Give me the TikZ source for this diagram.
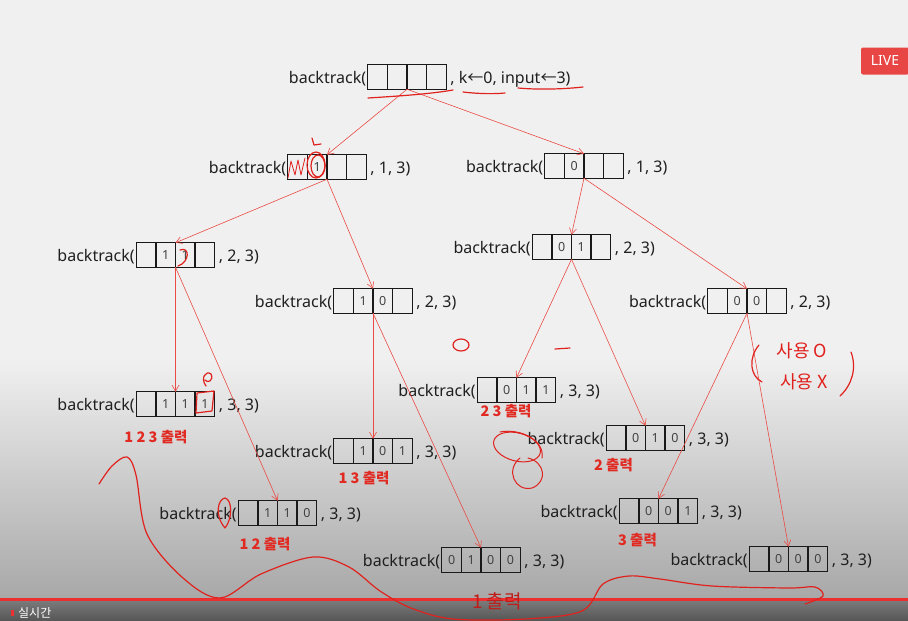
\documentclass[tikz,border=0pt]{standalone}
\usepackage{fontspec}
\setmainfont{Noto Sans}
\newfontfamily\cjk{Noto Sans CJK KR}
\usetikzlibrary{arrows.meta,calc}
\definecolor{bgtop}{HTML}{F0F0F0}
\definecolor{bgbot}{HTML}{A8A8A8}
\definecolor{edgered}{HTML}{EA4B45}
\definecolor{labred}{HTML}{E02A22}
\definecolor{handred}{HTML}{E0221E}
\definecolor{barA}{HTML}{7C7C7C}
\definecolor{barB}{HTML}{555555}
\definecolor{livered}{HTML}{E84545}
\definecolor{linered}{HTML}{EC3030}
\tikzset{
  btbox/.style={minimum width=78.4pt, minimum height=24.5pt, inner sep=0pt, outer sep=0pt},
  cell/.style={draw=black!90, line width=1.3pt, minimum width=19.6pt, minimum height=24.5pt,
    inner sep=0pt, outer sep=0pt, font=\fontsize{12.5}{12.5}\selectfont, text=black!75},
  bttext/.style={inner sep=0pt, font=\fontsize{16}{16}\selectfont, text=black!88},
  edge/.style={draw=edgered, line width=0.6pt, -{Straight Barb[length=6pt,width=7pt]}},
  outlab/.style={font=\cjk\bfseries\fontsize{14.5}{14.5}\selectfont, text=labred, inner sep=0pt},
  hand/.style={draw=handred, line width=1.2pt, line cap=round, line join=round},
}
\newcommand\btn[8]{%
  \node[btbox] (#1) at (#2,#3) {};
  \node[cell, anchor=west] (#1-1) at (#1.west) {#4};
  \node[cell, anchor=west] (#1-2) at (#1-1.east) {#5};
  \node[cell, anchor=west] (#1-3) at (#1-2.east) {#6};
  \node[cell, anchor=west] (#1-4) at (#1-3.east) {#7};
  \node[bttext, anchor=base east] (#1-t) at ($(#1.west)+(-1.5,6)$) {backtrack(};
  \node[bttext, anchor=base west] (#1-s) at ($(#1.east)+(4,6)$) {#8};
}
\begin{document}
\begin{tikzpicture}[x=1pt,y=-1pt]
\useasboundingbox (0,0) rectangle (908,621);
% background
\fill[bgtop] (0,0) rectangle (908,600);
\shade[top color=bgtop, bottom color=bgbot] (0,360) rectangle (908,598);
\shade[top color=barA, bottom color=barB] (0,600) rectangle (908,621);
\draw[linered, line width=3pt] (0,599) -- (908,599);
\fill[linered] (11,610) rectangle (14,616);
\node[font=\cjk\fontsize{12}{12}\selectfont, text=white, anchor=west, inner sep=0pt] (live2) at (18,613) {실시간};
\node[fill=livered, rounded corners=2pt, text=white, font=\bfseries\fontsize{14}{14}\selectfont,
  minimum width=48pt, minimum height=27pt, inner sep=0pt] (live) at (885,61) {LIVE};

% tree nodes
\btn{root}{407}{77}{}{}{}{}{, k{\cjk ←}0, input{\cjk ←}3)}
\btn{la}{327}{167}{}{1}{}{}{, 1, 3)}
\btn{lb}{584}{166}{}{0}{}{}{, 1, 3)}
\btn{a}{175.5}{255}{}{1}{1}{}{, 2, 3)}
\btn{b}{373}{301}{}{1}{0}{}{, 2, 3)}
\btn{c}{571.5}{247}{}{0}{1}{}{, 2, 3)}
\btn{d}{747}{301}{}{0}{0}{}{, 2, 3)}
\btn{n111}{175.5}{404}{}{1}{1}{1}{, 3, 3)}
\btn{n110}{277.5}{513}{}{1}{1}{0}{, 3, 3)}
\btn{n101}{373}{451}{}{1}{0}{1}{, 3, 3)}
\btn{n100}{481}{560}{0}{1}{0}{0}{, 3, 3)}
\btn{n011}{516.5}{390}{}{0}{1}{1}{, 3, 3)}
\btn{n010}{645.5}{438}{}{0}{1}{0}{, 3, 3)}
\btn{n001}{658.5}{511}{}{0}{0}{1}{, 3, 3)}
\btn{n000}{788.5}{559}{}{0}{0}{0}{, 3, 3)}

% output labels
\node[outlab] (o111) at (156,437) {1 2 3 출력};
\node[outlab] (o101) at (364,478) {1 3 출력};
\node[outlab] (o110) at (265,544) {1 2 출력};
\node[outlab] (o011) at (506,411) {2 3 출력};
\node[outlab] (o010) at (613.5,465) {2 출력};
\node[outlab] (o001) at (637.5,540) {3 출력};

% edges
\draw[edge] (root.south) -- (la.north);
\draw[edge] (root.south) -- (lb.north);
\draw[edge] (la.south) -- (a.north);
\draw[edge] (la.south) -- (b.north);
\draw[edge] (lb.south) -- (c.north);
\draw[edge] (lb.south) -- (d.north);
\draw[edge] (a.south) -- (n111.north);
\draw[edge] (a.south) -- (n110.north);
\draw[edge] (b.south) -- (n101.north);
\draw[edge] (b.south) -- (n100.north);
\draw[edge] (c.south) -- (n011.north);
\draw[edge] (c.south) -- (n010.north);
\draw[edge] (d.south) -- (n001.north);
\draw[edge] (d.south) -- (n000.north);

% handwritten annotations
\draw[hand] (368,98) .. controls (400,96) and (430,94) .. (453,90);
\draw[hand] (463,92) .. controls (480,94) and (495,94) .. (505,93);
\draw[hand] (518,88) .. controls (540,90) and (565,89) .. (583,87);
\draw[hand] (312,138) -- (314,145) -- (321,144);
\draw[hand] (316,165) ellipse [x radius=9, y radius=13];
\draw[hand] (318,166) ellipse [x radius=7, y radius=11];
\draw[hand, line width=0.8pt] (288,178) -- (291,161) -- (295,175) -- (298,160) -- (301,175) -- (305,158);
\draw[hand] (180,250) .. controls (190,246) and (190,262) .. (178,266);
\draw[hand] (197,393) -- (214,391) -- (212,411) -- (196,413) -- cycle;
\draw[hand] (206,386) .. controls (200,378) and (206,370) .. (211,374) .. controls (214,380) and (208,384) .. (205,380);
\draw[hand] (225,528) .. controls (214,515) and (218,499) .. (225,498) .. controls (233,500) and (232,520) .. (225,528);
\draw[hand] (461,345) ellipse [x radius=8, y radius=6];
\draw[hand] (555,349) -- (570,348);
\draw[hand, line width=1pt, rotate around={-15:(517,447)}] (517,447) ellipse [x radius=24, y radius=14];
\draw[hand, line width=1pt] (520,458) .. controls (505,470) and (515,492) .. (532,488) .. controls (548,482) and (545,462) .. (528,458);
\draw[hand, line width=1pt] (500,432) .. controls (520,428) and (545,440) .. (542,458);
\draw[hand] (759,345) .. controls (748,358) and (750,376) .. (762,382);
\draw[hand] (851,352) .. controls (857,368) and (852,385) .. (840,396);
\node[font=\cjk\fontsize{18}{18}\selectfont, text=handred, inner sep=0pt] (h1) at (802,351) {사용 O};
\node[font=\cjk\fontsize{18}{18}\selectfont, text=handred, inner sep=0pt] (h2) at (804,382) {사용 X};
\draw[hand] plot[smooth, tension=0.55] coordinates {(99,484) (112,466) (127,457) (136,475) (147,534) (183,578) (220,598) (261,574) (313,557) (349,567) (380,591) (411,608) (453,619) (525,619) (582,611) (603,584) (629,576) (660,579) (712,586) (789,588) (815,587) (823,596) (805,604)};
\node[font=\cjk\fontsize{19}{19}\selectfont, text=handred!85!black, inner sep=0pt] (h3) at (497,601) {1 출력};
\end{tikzpicture}
\end{document}
